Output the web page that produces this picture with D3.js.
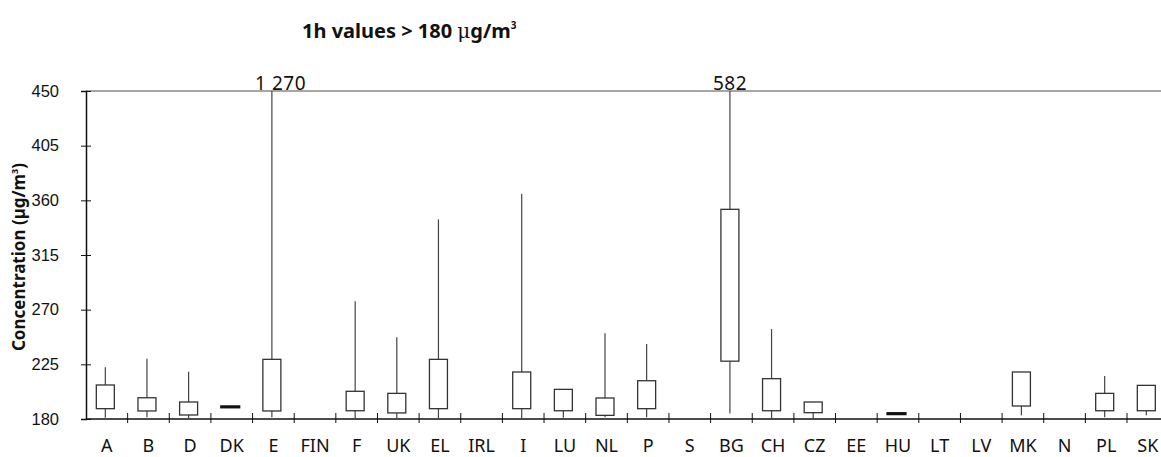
<!DOCTYPE html>
<html>
<head>
<meta charset="utf-8">
<script src="https://cdn.jsdelivr.net/npm/d3@7"></script>
<style>
  body { margin: 0; background: #fff; }
  svg { display: block; font-family: 'Noto Sans', 'Open Sans', sans-serif; }
</style>
</head>
<body>
<div id="chart"></div>
<script>
// one box per country, null = no data
const countries = ['A', 'B', 'D', 'DK', 'E', 'FIN', 'F', 'UK', 'EL', 'IRL', 'I', 'LU', 'NL', 'P', 'S',
  'BG', 'CH', 'CZ', 'EE', 'HU', 'LT', 'LV', 'MK', 'N', 'PL', 'SK']
const whiskerLow = [181, 181.4, 180.5, 189.6, 181.4, null, 180, 180, 180, null, 180, 181, 181.4, 181.4, null,
  184.6, 180, 180, null, 184, null, null, 183, null, 181.4, 183]
const boxLow = [188.5, 186.6, 183.3, 189.6, 186.6, null, 186.8, 185, 188.5, null, 188.5, 186.8, 183, 188.5, null,
  227.6, 186.8, 185.2, null, 184, null, null, 190.7, null, 186.8, 186.8]
const boxHigh = [208, 197.5, 194, 190.4, 229.1, null, 202.8, 201.1, 229.1, null, 218.7, 204.4, 197.3, 211.5, null,
  352.6, 213.2, 194, null, 184.8, null, null, 218.7, null, 201.1, 207.7]
const whiskerHigh = [222.6, 229.6, 218.9, 190.4, 1270, null, 277, 247.2, 344.4, null, 365.4, 204.4, 250.5, 241.7, null,
  582, 254, 194, null, 184.8, null, null, 218.7, null, 215.4, 207.7]
const yTicks = [180, 225, 270, 315, 360, 405, 450]

const width = 1161
const height = 457
const plotLeft = 86
const plotTop = 91
const plotBottom = 419
const bandW = 41.64

const data = countries.map((c, i) => ({
  name: c, wl: whiskerLow[i], bl: boxLow[i], bh: boxHigh[i], wh: whiskerHigh[i]
})).filter(d => d.bl !== null)

const xScale = d3.scaleBand()
  .domain(countries)
  .range([plotLeft, plotLeft + bandW * countries.length])

const yScale = d3.scaleLinear()
  .domain([yTicks[0], yTicks[yTicks.length - 1]])
  .range([plotBottom, plotTop])

const yMax = yScale.domain()[1]
const fmt = d3.formatLocale({decimal: '.', thousands: ' ', grouping: [3], currency: ['', '']}).format(',')

const svg = d3.select('#chart')
  .append('svg')
  .attr('width', width)
  .attr('height', height)

svg.append('text')
  .attr('x', 302)
  .attr('y', 38)
  .attr('font-size', 20)
  .attr('font-weight', 'bold')
  .attr('fill', '#111')
  .html('1h values &gt; 180 <tspan font-family="DejaVu Serif" font-weight="normal">μ</tspan>g/m<tspan font-size="10" dy="-9">3</tspan>')

// line at the top of the scale
svg.append('line')
  .attr('x1', plotLeft).attr('x2', width)
  .attr('y1', yScale(yMax)).attr('y2', yScale(yMax))
  .attr('stroke', '#888')
  .attr('stroke-width', 1.5)

// y axis
const yAxis = svg.append('g')
  .attr('transform', `translate(${plotLeft},0)`)
  .call(d3.axisLeft(yScale).tickValues(yTicks).tickSize(5).tickPadding(22))
yAxis.select('.domain').attr('stroke', '#111').attr('stroke-width', 1.5)
yAxis.selectAll('.tick line').attr('x1', 5).attr('x2', -5).attr('stroke', '#111')
yAxis.selectAll('.tick text')
  .attr('font-size', 16.5)
  .attr('fill', '#111')
  .attr('font-family', 'Liberation Sans, Arial, sans-serif')

svg.append('text')
  .attr('transform', `translate(25,${(plotTop + plotBottom) / 2 + 2}) rotate(-90)`)
  .attr('text-anchor', 'middle')
  .attr('font-size', 17)
  .attr('font-weight', 'bold')
  .attr('fill', '#111')
  .html('Concentration (µg/m<tspan font-size="9" dy="-7">3</tspan><tspan dy="7">)</tspan>')

// x axis
const xAxis = svg.append('g')
  .attr('transform', `translate(0,${plotBottom})`)
  .call(d3.axisBottom(xScale).tickSize(0).tickPadding(20))
xAxis.select('.domain').remove()
xAxis.selectAll('.tick text')
  .attr('font-size', 18)
  .attr('fill', '#111')
  .attr('font-family', 'Noto Sans, Open Sans, sans-serif')

svg.append('line')
  .attr('x1', plotLeft).attr('x2', width)
  .attr('y1', plotBottom).attr('y2', plotBottom)
  .attr('stroke', '#111')
  .attr('stroke-width', 1.5)

svg.selectAll('.band-tick')
  .data(countries.slice(1))
  .enter()
  .append('line')
  .attr('class', 'band-tick')
  .attr('x1', d => xScale(d)).attr('x2', d => xScale(d))
  .attr('y1', plotBottom - 6).attr('y2', plotBottom + 4)
  .attr('stroke', '#111')

// boxes
const boxW = 18
const cx = d => xScale(d.name) + xScale.bandwidth() / 2 - 1.5

const boxes = svg.selectAll('.box')
  .data(data)
  .enter()
  .append('g')
  .attr('class', 'box')

boxes.filter(d => d.wh > d.bh)
  .append('line')
  .attr('x1', cx).attr('x2', cx)
  .attr('y1', d => yScale(d.bh))
  .attr('y2', d => yScale(Math.min(d.wh, yMax)))
  .attr('stroke', '#444')
  .attr('stroke-width', 1.2)

boxes.filter(d => d.wl < d.bl)
  .append('line')
  .attr('x1', cx).attr('x2', cx)
  .attr('y1', d => yScale(d.wl))
  .attr('y2', d => yScale(d.bl))
  .attr('stroke', '#444')
  .attr('stroke-width', 1.2)

boxes.append('rect')
  .attr('x', d => cx(d) - boxW / 2)
  .attr('width', boxW)
  .attr('y', d => yScale(d.bh))
  .attr('height', d => yScale(d.bl) - yScale(d.bh))
  .attr('fill', '#fff')
  .attr('stroke', d => d.bh - d.bl < 1 ? '#111' : '#333')
  .attr('stroke-width', d => d.bh - d.bl < 1 ? 2.2 : 1.3)

// values cut off at the top
svg.selectAll('.over')
  .data(data.filter(d => d.wh > yMax))
  .enter()
  .append('text')
  .attr('class', 'over')
  .attr('x', d => cx(d) - 17)
  .attr('y', plotTop - 1)
  .attr('font-size', 19)
  .attr('letter-spacing', 0.6)
  .attr('fill', '#111')
  .text(d => fmt(d.wh))
</script>
</body>
</html>
